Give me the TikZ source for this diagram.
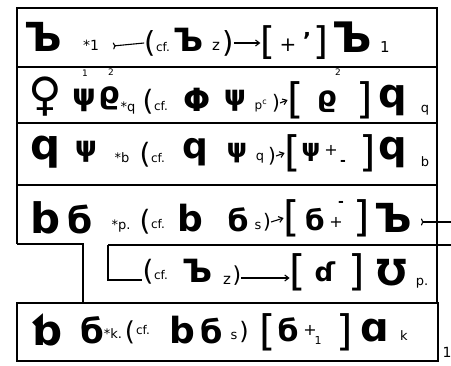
\documentclass[tikz,border=0pt]{standalone}
\usepackage{fontspec}
\setmainfont{DejaVu Sans}
\usetikzlibrary{arrows.meta}
\begin{document}
\begin{tikzpicture}[x=1pt,y=-1pt,
  gl/.style={inner sep=0pt, font=\fontsize{#1}{#1}\selectfont\bfseries},
  tx/.style={inner sep=0pt, font=\fontsize{#1}{#1}\selectfont},
  frame/.style={line width=1.5pt},
  link/.style={line width=1.1pt, -{Straight Barb[length=4pt,width=6pt]}},
  tailed/.style={line width=1.1pt, {To[reversed,length=3pt,width=7pt]}-}]
\useasboundingbox (0,0) rectangle (451,366);
% frame
\draw[frame] (17,244) -- (17,8) -- (437,8) -- (437,302);
\draw[frame] (17,67) -- (437,67);
\draw[frame] (17,123) -- (437,123);
\draw[frame] (17,185) -- (437,185);
\draw[frame] (17,244) -- (83,244) -- (83,303);
\draw[frame] (108,245) -- (451,245);
\draw[frame] (17,303) rectangle (438,361);
% row 1
\node[gl=40] (a1) at (43,37) {Ъ};
\node[tx=14] (a2) at (91,45) {*1};
\coordinate (a3) at (113,46);
\node[tx=29] (a4) at (150,43) {(};
\node[tx=12] (a5) at (163,47) {cf.};
\node[gl=32] (a6) at (189,40) {Ъ};
\node[tx=15] (a7) at (216,46) {z};
\node[tx=29] (a8) at (228,43) {)};
\node[tx=38] (a9) at (268,43) {[};
\node[tx=20] (a10) at (288,45) {+};
\node[gl=22] (a11) at (307,40) {'};
\node[tx=38] (a12) at (321,43) {]};
\node[gl=42] (a13) at (352,37) {Ъ};
\node[tx=15] (a14) at (385,47) {1};
\draw[tailed] (a3) -- (a4.west);
\draw[link] (a8.east) -- (a9.west);
% row 2
\node[gl=46] (b1) at (45,97) {♀};
\node[gl=30] (b2) at (84,100) {ψ};
\node[tx=9] (b3) at (85,73) {1};
\node[gl=30] (b4) at (109,98) {ϱ};
\node[tx=9] (b5) at (111,72) {2};
\node[tx=13] (b6) at (128,108) {*q};
\node[tx=28] (b7) at (148,102) {(};
\node[tx=12] (b8) at (161,106) {cf.};
\node[gl=32] (b9) at (197,100) {Φ};
\node[gl=28] (b10) at (235,101) {ψ};
\node[tx=12] (b11) at (261,106) {p\textsuperscript{c}};
\node[tx=20] (b12) at (276,103) {)};
\node[tx=42] (b13) at (296,100) {[};
\node[gl=28] (b14) at (327,102) {ϱ};
\node[tx=9] (b15) at (338,72) {2};
\node[tx=42] (b16) at (365,100) {]};
\node[gl=40] (b17) at (393,100) {q};
\node[tx=13] (b18) at (425,110) {q};
\draw[link] (b12.east) -- (b13.west);
% row 3
\node[gl=42] (c1) at (46,152) {q};
\node[gl=28] (c2) at (86,152) {ψ};
\node[tx=13] (c3) at (122,158) {*b};
\node[tx=28] (c4) at (145,155) {(};
\node[tx=12] (c5) at (158,158) {cf.};
\node[gl=36] (c6) at (195,152) {q};
\node[gl=26] (c7) at (237,153) {ψ};
\node[tx=13] (c8) at (260,158) {q};
\node[tx=20] (c9) at (272,156) {)};
\node[tx=42] (c10) at (293,153) {[};
\node[gl=24] (c11) at (311,152) {ψ};
\node[tx=16] (c12) at (331,150) {+};
\node[gl=14] (c13) at (343,163) {-};
\node[tx=42] (c14) at (368,153) {]};
\node[gl=40] (c15) at (393,152) {q};
\node[tx=13] (c16) at (425,162) {b};
\draw[link] (c9.east) -- (c10.west);
% row 4
\node[gl=42] (d1) at (46,218) {b};
\node[gl=36] (d2) at (80,219) {б};
\node[tx=13] (d3) at (121,226) {*p.};
\node[tx=28] (d4) at (145,222) {(};
\node[tx=12] (d5) at (158,224) {cf.};
\node[gl=36] (d6) at (190,218) {b};
\node[gl=30] (d7) at (238,220) {б};
\node[tx=13] (d8) at (258,226) {s};
\node[tx=20] (d9) at (267,222) {)};
\node[tx=42] (d10) at (292,218) {[};
\node[gl=28] (d11) at (315,220) {б};
\node[tx=16] (d12) at (336,222) {+};
\node[gl=14] (d13) at (341,204) {-};
\node[tx=42] (d14) at (362,218) {]};
\node[gl=40] (d15) at (393,218) {Ъ};
\coordinate (d16) at (451,222);
\draw[link] (d9.east) -- (d10.west);
\draw[tailed] ([xshift=9pt]d15.east |- d16) -- (d16);
% sub row
\coordinate (e0) at (108,245);
\node[tx=28] (e1) at (148,272) {(};
\node[tx=12] (e2) at (161,275) {cf.};
\node[gl=32] (e3) at (198,271) {Ъ};
\node[tx=15] (e4) at (227,280) {z};
\node[tx=22] (e5) at (237,276) {)};
\node[tx=42] (e6) at (298,272) {[};
\node[gl=26] (e7) at (325,272) {ɗ};
\node[tx=42] (e8) at (357,272) {]};
\node[gl=36] (e9) at (392,273) {Ʊ};
\node[tx=13] (e10) at (422,283) {p.};
\draw[line width=1.1pt] (e0) |- (e1.west |- 0,280);
\draw[link] (e5.east |- 0,278) -- (e6.west |- 0,278);
% bottom row
\node[gl=42] (f1) at (47,330) {ƅ};
\node[gl=34] (f2) at (92,330) {б};
\node[tx=13] (f3) at (113,334) {*k.};
\node[tx=26] (f4) at (130,332) {(};
\node[tx=12] (f5) at (143,330) {cf.};
\node[gl=36] (f6) at (182,330) {b};
\node[gl=32] (f7) at (212,331) {б};
\node[tx=13] (f8) at (234,336) {s};
\node[tx=24] (f9) at (244,332) {)};
\node[tx=42] (f10) at (268,332) {[};
\node[gl=30] (f11) at (288,330) {б};
\node[tx=16] (f12) at (310,330) {+};
\node[tx=11] (f13) at (318,340) {1};
\node[tx=42] (f14) at (345,332) {]};
\node[gl=40] (f15) at (375,331) {ɑ};
\node[tx=13] (f16) at (404,336) {k};
\node[tx=14] (f17) at (447,352) {1};
\end{tikzpicture}
\end{document}
